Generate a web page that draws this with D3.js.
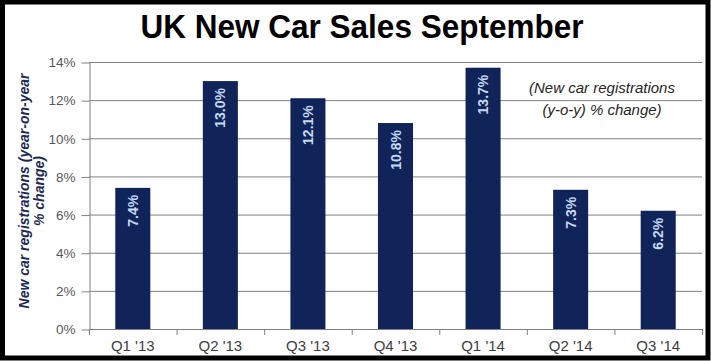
<!DOCTYPE html>
<html>
<head>
<meta charset="utf-8">
<script src="https://cdn.jsdelivr.net/npm/d3@7"></script>
<style>
  html, body { margin: 0; padding: 0; background: #fff; }
  svg { display: block; font-family: "Liberation Sans", Arial, sans-serif; }
</style>
</head>
<body>
<svg id="chart" width="711" height="361"></svg>
<script>
const categories = ["Q1 '13", "Q2 '13", "Q3 '13", "Q4 '13", "Q1 '14", "Q2 '14", "Q3 '14"];
const values = [7.4, 13.0, 12.1, 10.8, 13.7, 7.3, 6.2];
const yTicks = [0, 2, 4, 6, 8, 10, 12, 14];
const title = "UK New Car Sales September";
const yLabelLines = ["New car registrations (year-on-year", "% change)"];
const noteLines = ["(New car registrations", "(y-o-y) % change)"];

(function () {
const svg = d3.select("#chart");
const W = 711, H = 361;
const pL = 89, pR = 702, pT = 62, pB = 329;

svg.append("rect").attr("x", 0).attr("y", 0).attr("width", W).attr("height", H).attr("fill", "#fff");

const x = d3.scaleBand().domain(categories).range([pL, pR]).paddingInner(0.6).paddingOuter(0.3);
const y = d3.scaleLinear().domain([0, 14]).range([pB, pT]);

// gridlines
svg.append("g").selectAll("line").data(yTicks.filter(t => t > 0)).join("line")
  .attr("x1", pL).attr("x2", pR)
  .attr("y1", d => y(d) + 0.5).attr("y2", d => y(d) + 0.5)
  .attr("stroke", "#808080").attr("stroke-width", 1);

// y axis
const yAxis = d3.axisLeft(y).tickValues(yTicks).tickFormat(d => d + "%").tickSize(8).tickPadding(6).tickSizeOuter(0);
const gy = svg.append("g").attr("transform", `translate(${pL + 0.5},0.5)`).call(yAxis);
gy.select(".domain").attr("stroke", "#808080");
gy.selectAll(".tick line").attr("stroke", "#808080");
gy.selectAll(".tick text").attr("fill", "#595959").attr("font-size", 13.5).attr("font-family", "Liberation Sans, Arial, sans-serif");

// bars
svg.append("g").selectAll("rect").data(categories).join("rect")
  .attr("x", d => x(d))
  .attr("width", x.bandwidth())
  .attr("y", (d, i) => y(values[i]))
  .attr("height", (d, i) => y(0) - y(values[i]))
  .attr("fill", "#10245A");

// bar labels
svg.append("g").selectAll("text").data(categories).join("text")
  .attr("transform", (d, i) => `translate(${x(d) + x.bandwidth() / 2 + 5},${y(values[i]) + 7}) rotate(-90)`)
  .attr("text-anchor", "end")
  .attr("font-size", 14)
  .attr("font-weight", "bold")
  .attr("fill", "#C5D9F1")
  .text((d, i) => values[i].toFixed(1) + "%");

// x axis line and boundary ticks
svg.append("line").attr("x1", pL).attr("x2", pR).attr("y1", pB + 0.5).attr("y2", pB + 0.5)
  .attr("stroke", "#808080");
const bounds = d3.range(categories.length + 1).map(i => pL + i * (pR - pL) / categories.length);
svg.append("g").selectAll("line").data(bounds).join("line")
  .attr("x1", d => d + 0.5).attr("x2", d => d + 0.5)
  .attr("y1", pB).attr("y2", pB + 6)
  .attr("stroke", "#808080");
svg.append("g").selectAll("text").data(categories).join("text")
  .attr("x", d => x(d) + x.bandwidth() / 2)
  .attr("y", 351)
  .attr("text-anchor", "middle")
  .attr("font-size", 15)
  .attr("fill", "#404040")
  .text(d => d);

// y label
const yl = svg.append("text")
  .attr("transform", "translate(0,191) rotate(-90)")
  .attr("text-anchor", "middle")
  .attr("font-size", 14)
  .attr("font-weight", "bold")
  .attr("font-style", "italic")
  .attr("fill", "#1B2A55");
yl.selectAll("tspan").data(yLabelLines).join("tspan")
  .attr("x", 0)
  .attr("y", (d, i) => 29 + i * 15)
  .text(d => d);

// note
svg.append("g").selectAll("text").data(noteLines).join("text")
  .attr("x", 602)
  .attr("y", (d, i) => 93 + i * 22)
  .attr("text-anchor", "middle")
  .attr("font-size", 15)
  .attr("font-style", "italic")
  .attr("fill", "#262626")
  .text(d => d);

// title
svg.append("text")
  .attr("x", 362).attr("y", 38)
  .attr("text-anchor", "middle")
  .attr("font-size", 34)
  .attr("font-weight", "bold")
  .attr("fill", "#000")
  .attr("textLength", 443)
  .attr("lengthAdjust", "spacingAndGlyphs")
  .text(title);

// outer border
svg.append("rect").attr("x", 2.5).attr("y", 2).attr("width", W - 5.5).attr("height", H - 5)
  .attr("fill", "none").attr("stroke", "#000").attr("stroke-width", 5);
})();
</script>
</body>
</html>
